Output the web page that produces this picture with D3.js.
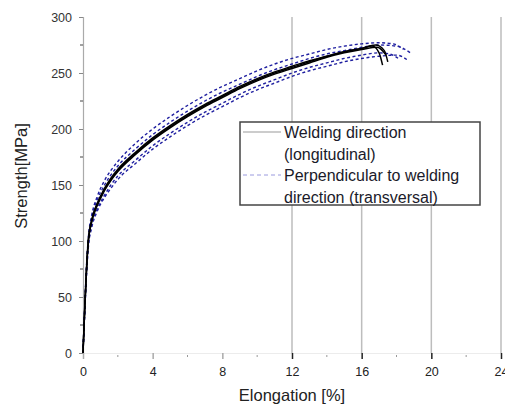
<!DOCTYPE html>
<html>
<head>
<meta charset="utf-8">
<script src="https://cdn.jsdelivr.net/npm/d3@7"></script>
<style>
  body { margin: 0; background: #fff; }
  text { font-family: "Liberation Sans", Arial, sans-serif; }
</style>
</head>
<body>
<div id="chart"></div>
<script>
// data: [elongation %, strength MPa]
const longitudinal1 = [[0,0],[0.1,40],[0.2,74],[0.3,99],[0.5,118],[0.8,132],[1.2,145],[1.6,155],[2,163],[3,178],[4,191],[5,202],[6,212],[7,221],[8,229],[9,237],[10,244],[11,250],[12,255],[13,260],[14,265],[15,269],[16,272],[16.6,274],[17.0,268],[17.2,257]];
const longitudinal2 = [[0,0],[0.1,41],[0.2,75],[0.3,100],[0.5,119],[0.8,133],[1.2,146],[1.6,156],[2,164],[3,179],[4,192],[5,203],[6,213],[7,222],[8,230],[9,238],[10,245],[11,251],[12,256],[13,261],[14,265],[15,269],[16,272],[16.8,275],[17.3,270],[17.5,260]];
const longitudinal3 = [[0,0],[0.1,39],[0.2,73],[0.3,98],[0.5,117],[0.8,131],[1.2,144],[1.6,154],[2,162],[3,177],[4,190],[5,201],[6,211],[7,220],[8,228],[9,236],[10,243],[11,249],[12,254],[13,259],[14,264],[15,268],[16,271],[16.9,273],[17.4,266]];

const transversal1 = [[0,0],[0.1,42],[0.2,78],[0.3,102],[0.5,123],[0.8,139],[1.2,153],[1.6,163],[2,171],[3,187],[4,200],[5,211],[6,221],[7,230],[8,238],[9,245],[10,252],[11,258],[12,263],[13,267],[14,271],[15,274],[16,276],[17,277],[17.8,276],[18.4,271]];
const transversal2 = [[0,0],[0.1,40],[0.2,76],[0.3,100],[0.5,121],[0.8,136],[1.2,149],[1.6,159],[2,167],[3,182],[4,195],[5,206],[6,216],[7,225],[8,233],[9,240],[10,247],[11,253],[12,258],[13,263],[14,267],[15,270],[16,273],[17,275],[18,274],[18.8,268]];
const transversal3 = [[0,0],[0.1,37],[0.2,71],[0.3,95],[0.5,114],[0.8,128],[1.2,140],[1.6,150],[2,158],[3,172],[4,185],[5,196],[6,206],[7,215],[8,223],[9,231],[10,238],[11,244],[12,250],[13,255],[14,259],[15,263],[16,266],[17,268],[17.6,267],[18.2,262]];
const transversal4 = [[0,0],[0.1,36],[0.2,69],[0.3,93],[0.5,112],[0.8,126],[1.2,138],[1.6,147],[2,155],[3,169],[4,182],[5,193],[6,203],[7,212],[8,220],[9,228],[10,235],[11,241],[12,247],[13,252],[14,256],[15,260],[16,263],[17,265],[18,266],[18.6,262]];

const longitudinalSeries = [longitudinal1, longitudinal2, longitudinal3];
const transversalSeries = [transversal1, transversal2, transversal3, transversal4];

const xTicks = [0, 4, 8, 12, 16, 20, 24];
const xMinorTicks = [2, 6, 10, 14, 18, 22];
const xGridTicks = [12, 16, 20, 24];
const yTicks = [0, 50, 100, 150, 200, 250, 300];
const yMinorTicks = [25, 75, 125, 175, 225, 275];
const legendLabels = [["Welding direction", "(longitudinal)"], ["Perpendicular to welding", "direction (transversal)"]];

const width = 505, height = 406;

const svg = d3.select("#chart")
  .append("svg")
  .attr("width", width)
  .attr("height", height);

const x = d3.scaleLinear().domain([0, 24]).range([83, 501]);
const y = d3.scaleLinear().domain([0, 300]).range([353, 17]);

// vertical grid lines (only on the right part, as in the original)
svg.append("g")
  .selectAll("line")
  .data(xGridTicks)
  .join("line")
  .attr("x1", d => x(d)).attr("x2", d => x(d))
  .attr("y1", y(300)).attr("y2", y(0))
  .attr("stroke", "#bdbdbd")
  .attr("stroke-width", 1.5);

// x axis
const xAxis = svg.append("g")
  .attr("transform", `translate(0 ${y(0)})`)
  .call(d3.axisBottom(x).tickValues(xTicks).tickSize(6).tickPadding(8).tickFormat(d3.format("d")));
xAxis.select(".domain").attr("stroke", "#ececec");
xAxis.selectAll(".tick line").attr("stroke", d => d >= 12 ? "#222" : "#aaa").attr("stroke-width", 1.5);
xAxis.selectAll(".tick text").attr("font-size", 12.5).attr("fill", "#222");

svg.append("g")
  .selectAll("line")
  .data(xMinorTicks)
  .join("line")
  .attr("x1", d => x(d)).attr("x2", d => x(d))
  .attr("y1", y(0) + 2).attr("y2", y(0) + 4)
  .attr("stroke", "#999");

// y axis
const yAxis = svg.append("g")
  .attr("transform", `translate(${x(0)} 0)`)
  .call(d3.axisLeft(y).tickValues(yTicks).tickSize(4).tickPadding(7));
yAxis.select(".domain").attr("stroke", "#aaa").attr("stroke-width", 1.2);
yAxis.selectAll(".tick line").attr("stroke", "#888");
yAxis.selectAll(".tick text").attr("font-size", 12.5).attr("fill", "#333");

svg.append("g")
  .selectAll("line")
  .data(yMinorTicks)
  .join("line")
  .attr("x1", x(0) - 3).attr("x2", x(0))
  .attr("y1", d => y(d)).attr("y2", d => y(d))
  .attr("stroke", "#444");

// axis titles
svg.append("text")
  .attr("transform", `translate(27 176) rotate(-90)`)
  .attr("text-anchor", "middle")
  .attr("font-size", 16.5)
  .attr("fill", "#222")
  .text("Strength[MPa]");

svg.append("text")
  .attr("x", 292)
  .attr("y", 401)
  .attr("text-anchor", "middle")
  .attr("font-size", 16.5)
  .attr("fill", "#222")
  .text("Elongation [%]");

// curves
const line = d3.line()
  .x(d => x(d[0]))
  .y(d => y(d[1]))
  .curve(d3.curveMonotoneX);

svg.append("g")
  .selectAll("path")
  .data(transversalSeries)
  .join("path")
  .attr("d", line)
  .attr("fill", "none")
  .attr("stroke", "#1f1fa0")
  .attr("stroke-width", 1.4)
  .attr("stroke-dasharray", "3,2.5");

svg.append("g")
  .selectAll("path")
  .data(longitudinalSeries)
  .join("path")
  .attr("d", line)
  .attr("fill", "none")
  .attr("stroke", "#000")
  .attr("stroke-width", 1.5);

// legend
const legend = svg.append("g").attr("transform", "translate(240 122)");
legend.append("rect")
  .attr("width", 240)
  .attr("height", 83)
  .attr("fill", "#fff")
  .attr("stroke", "#444")
  .attr("stroke-width", 1.5);

legend.append("line")
  .attr("x1", 3).attr("x2", 41).attr("y1", 10).attr("y2", 10)
  .attr("stroke", "#999").attr("stroke-width", 1);
legend.append("line")
  .attr("x1", 3).attr("x2", 41).attr("y1", 53).attr("y2", 53)
  .attr("stroke", "#9a9ade").attr("stroke-width", 1)
  .attr("stroke-dasharray", "4,3");

legend.selectAll("text.lg")
  .data(legendLabels.flat())
  .join("text")
  .attr("class", "lg")
  .attr("x", 44)
  .attr("y", (d, i) => 16 + i * 21.5)
  .attr("font-size", 16)
  .attr("fill", "#1a1a2a")
  .text(d => d);
</script>
</body>
</html>
